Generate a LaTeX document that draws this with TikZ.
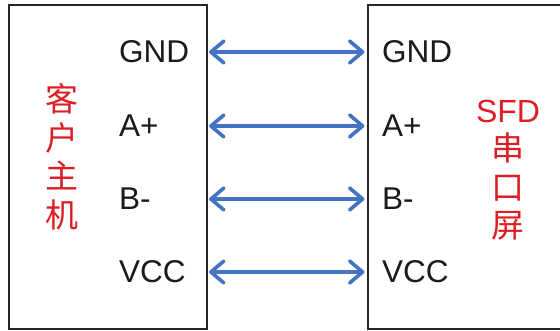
\documentclass[tikz,border=0pt]{standalone}
\usepackage{fontspec}
\setmainfont{Liberation Sans}
\newfontfamily\cjk{Noto Sans CJK SC}
\usetikzlibrary{arrows.meta}
\definecolor{linkblue}{RGB}{68,114,196}
\definecolor{namered}{RGB}{222,30,36}
\definecolor{pintext}{RGB}{26,26,26}
\tikzset{
  device/.style={draw=black!85, line width=1.2pt, rectangle, inner sep=0pt},
  pin/.style={font=\fontsize{31.5}{31.5}\selectfont, text=pintext, anchor=west, inner sep=0pt},
  devname/.style={text=namered, align=center, inner sep=0pt,
    font=\cjk\fontsize{33}{38.5}\selectfont},
  link/.style={draw=linkblue, line width=3.6pt,
    {Straight Barb[length=13pt,width=22pt,round]}-{Straight Barb[length=13pt,width=22pt,round]},
    shorten <=1.5pt, shorten >=3pt}
}
\begin{document}
\begin{tikzpicture}[x=1pt,y=-1pt]
  \useasboundingbox (0,0) rectangle (560,331);
  \fill[white] (0,0) rectangle (560,331);

  % the two devices
  \node[device, minimum width=198pt, minimum height=324pt] (host) at (108,167) {};
  \node[device, minimum width=210pt, minimum height=324pt] (screen) at (473,167) {};

  % device names
  \node[devname] (hostname) at (62,157) {客\\户\\主\\机};
  \node[devname] (screenname) at (508,170) {{\rmfamily\fontsize{32}{32}\selectfont SFD}\\串\\口\\屏};

  % pin labels on the host side
  \node[pin] (hgnd) at (119,52) {GND};
  \node[pin] (ha)   at (119,126) {A+};
  \node[pin] (hb)   at (119,199) {B-};
  \node[pin] (hvcc) at (119,272) {VCC};

  % pin labels on the screen side
  \node[pin] (sgnd) at (382,52) {GND};
  \node[pin] (sa)   at (382,126) {A+};
  \node[pin] (sb)   at (382,199) {B-};
  \node[pin] (svcc) at (382,272) {VCC};

  % wire ends on the facing box edges
  \foreach \p in {gnd,a,b,vcc}{
    \coordinate (l\p) at (host.east |- h\p.west);
    \coordinate (r\p) at (screen.west |- s\p.west);
  }

  % bidirectional links
  \draw[link] (lgnd) -- (rgnd);
  \draw[link] (la) -- (ra);
  \draw[link] (lb) -- (rb);
  \draw[link] (lvcc) -- (rvcc);
\end{tikzpicture}
\end{document}
